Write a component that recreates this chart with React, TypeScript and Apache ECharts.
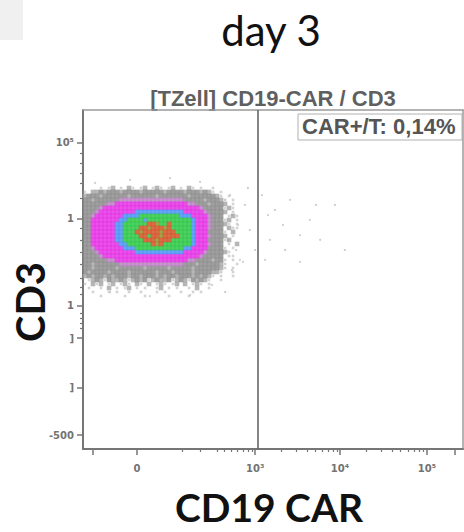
import React, { useEffect, useRef } from "react";
import * as echarts from "echarts";

// ---- texts ----
const pageTitle = "day 3";
const plotTitle = "[TZell] CD19-CAR / CD3";
const xAxisTitle = "CD19 CAR";
const yAxisTitle = "CD3";
const gateLabel = "CAR+/T: 0,14%";

// ---- axes (display channel scale 0..1000 on both axes) ----
const xMajorTicks = [26, 142, 453, 676, 905, 979];
const xMajorLabels = ["", "0", "10³", "10⁴", "10⁵", ""];
const xMinorTicks = [
  260, 308, 353, 371, 390, 405, 421, 434, 445,
  521, 560, 590, 611, 629, 645, 658, 668,
  745, 784, 813, 834, 855, 871, 884, 895,
];
const yMajorTicks = [903, 679, 422, 327, 180, 41];
const yMajorLabels = ["10⁵", "1", "1", "]", "]", "-500"];
const yMinorTicks = [
  873, 844, 814, 785, 740,
  652, 617, 581, 546, 504, 478, 457,
  401, 386, 372, 357,
];
const gateX = 461;

// ---- density plot: binned event levels ----
// first bin centre (channels) and bin width (channels)
const densityOrigin = [5.3, 770];
const densityBin = [10.53, 11.8];
const densityRows = [
  "    . .: . :. .: .:. .: . :. .  .      ",
  ". ::" + "g:ggg:gggg:ggggg:gggg:ggg:g" + ":. .    ",
  ":" + "ggg:gggggg:gggggg:ggggggg:gggggg" + ":." + " .  ",
  "gg:gggggg" + "pppppppppppppppp" + "ggggg:ggg" + ":. . ",
  "gggggg" + "pp" + "mmmmmmmmmmmmmmmmmm" + "pp" + "ggg:ggg" + ": . ",
  "gggg" + "p" + "mmmmmmmmmmmmmmmmmmmmmmmm" + "p" + "ggggg" + ".:. ",
  "ggg" + "p" + "mmmmmmmmm" + "bbbbbbbbbbbb" + "mmmmm" + "p" + "gggg" + ": . ",
  "gg" + "p" + "mmmmmmm" + "bbbb" + "nnnnnnnnnn" + "bbb" + "mmmm" + "pggg" + " .:.",
  "gg" + "mmmmmmm" + "bb" + "nnnnbnnnnnnnnnnn" + "b" + "mmm" + "pggg" + ".: .",
  "gg" + "mmmmmm" + "bb" + "nnnnnnrronnrnnnnn" + "b" + "mmm" + "pggg" + ":. .",
  "gg" + "mmmmmm" + "bb" + "nnnnrrorrrornnnnn" + "b" + "mmm" + "pggg" + " :..",
  "gg" + "mmmmmm" + "bb" + "nnnrorrrrorrrnnnn" + "b" + "mmm" + "gggg" + ". : ",
  "gg" + "mmmmmm" + "bb" + "nnnnrrnrrorrrrnnn" + "b" + "mmm" + "pggg" + ": . ",
  "gg" + "mmmmmm" + "bb" + "nnnnnrrrorrrnnnnn" + "b" + "mmm" + "gggg" + ".:  ",
  "gg" + "mmmmmmm" + "bb" + "nnnnnnrornnnnnnn" + "b" + "mmm" + "pggg" + " . :",
  "gg" + "p" + "mmmmmmm" + "bbb" + "nnnnnnnnnnnn" + "bb" + "mmmm" + "gggg" + ". . ",
  "ggg" + "p" + "mmmmmmmmm" + "bbbbbbbbbbbb" + "mmmmm" + "p" + "gggg" + ":.  ",
  "gggg" + "p" + "mmmmmmmmmmmmmmmmmmmmmmmm" + "p" + "ggggg" + " .. ",
  "gggggg" + "pp" + "mmmmmmmmmmmmmmmmmm" + "pp" + "gggg:gg" + ". . ",
  "gg:gggggg" + "pppppppppppppppp" + "ggg:ggggg" + ":.  .",
  "gg:ggggg:gggggg:ggggg:ggggg:gggggg" + ":. . ",
  "g:gggg:gggg:gggggg:ggg:gggg:gggg:" + ":.  . ",
  ":g:gg:g:ggg:gg:ggg:g:gg:ggg:g:g:" + ". .  . ",
  " .:g:.g::g:.:g:g.:g::g.:g:.g:g:." + "  .    ",
  ". :.: .: .:. :. : .:. .: : .:. .      ",
  " .  . : . .: . .  .: . .  . :  .      ",
  "  .   . .  .  .   . .   .  . .        ",
  "    .     .    .     .    .           ",
];

// sparse events outside the main population (channels)
const sparseEvents = [
  [374, 735], [392, 690], [408, 661], [382, 617], [426, 720], [439, 646],
  [471, 749], [487, 690], [505, 705], [526, 661], [545, 735], [571, 631],
  [597, 676], [624, 617], [663, 720], [689, 587], [453, 587], [413, 558],
  [392, 528], [479, 558], [339, 484], [374, 463], [282, 454], [176, 451],
  [71, 463], [124, 794], [229, 799], [308, 788], [32, 785], [387, 749],
  [403, 587], [421, 552], [363, 522], [434, 770], [532, 587], [571, 552],
  [613, 720], [492, 617],
];

const levelStyles: Record<string, { name: string; color: string; size: number }> = {
  ".": { name: "sparse", color: "#c9c9c9", size: 2.6 },
  ":": { name: "low", color: "#a4a4a4", size: 4.6 },
  g: { name: "grey", color: "#878787", size: 4.6 },
  p: { name: "edge", color: "#b878c0", size: 4.6 },
  m: { name: "magenta", color: "#e326e3", size: 4.6 },
  b: { name: "blue", color: "#3f8df5", size: 4.6 },
  n: { name: "green", color: "#22c43c", size: 4.6 },
  o: { name: "olive", color: "#8f8a1f", size: 4.6 },
  r: { name: "red", color: "#cf4a1c", size: 4.6 },
};
const levelOrder = [".", ":", "g", "p", "m", "b", "n", "o", "r"];

function buildOption() {
  const binned: Record<string, number[][]> = {};
  densityRows.forEach((row, r) => {
    for (let c = 0; c < row.length; c++) {
      const k = row[c];
      if (!levelStyles[k]) continue;
      (binned[k] = binned[k] || []).push([
        densityOrigin[0] + c * densityBin[0],
        densityOrigin[1] - r * densityBin[1],
      ]);
    }
  });

  const axisColor = "#767676";
  const labelFont = { color: "#737373", fontSize: 10, fontWeight: "bold", fontFamily: "DejaVu Sans" };
  const base = { type: "value", min: 0, max: 1000, splitLine: { show: false } };
  const labelX = (v: number) => {
    const i = xMajorTicks.indexOf(v);
    return i >= 0 ? xMajorLabels[i] : "";
  };
  const labelY = (v: number) => {
    const i = yMajorTicks.indexOf(v);
    return i >= 0 ? yMajorLabels[i] : "";
  };

  const series: any[] = levelOrder
    .filter((k) => binned[k])
    .map((k) => ({
      type: "scatter",
      name: levelStyles[k].name,
      symbol: "rect",
      symbolSize: levelStyles[k].size,
      silent: true,
      itemStyle: { color: levelStyles[k].color },
      data: binned[k],
      xAxisIndex: 0,
      yAxisIndex: 0,
    }));

  series.unshift({
    type: "scatter",
    name: "events",
    symbol: "circle",
    symbolSize: 2.2,
    silent: true,
    itemStyle: { color: "#bdbdbd" },
    data: sparseEvents,
    xAxisIndex: 0,
    yAxisIndex: 0,
    markLine: {
      silent: true,
      symbol: ["none", "none"],
      label: { show: false },
      lineStyle: { color: "#666666", width: 1.6, type: "solid" },
      data: [{ xAxis: gateX }],
    },
  });

  return {
    animation: false,
    backgroundColor: "#ffffff",
    grid: { left: 83, top: 110, width: 380, height: 339, outerBoundsMode: "none" },
    xAxis: [
      {
        ...base,
        position: "bottom",
        axisLine: { show: true, onZero: false, lineStyle: { color: axisColor, width: 2 } },
        axisTick: { show: true, customValues: xMajorTicks, length: 6, lineStyle: { color: axisColor, width: 1.5 } },
        axisLabel: {
          show: true,
          customValues: xMajorTicks.filter((_, i) => xMajorLabels[i] !== ""),
          formatter: labelX,
          margin: 14,
          ...labelFont,
        },
      },
      {
        ...base,
        position: "bottom",
        axisLine: { show: false },
        axisTick: { show: true, customValues: xMinorTicks, length: 3, lineStyle: { color: axisColor, width: 1.2 } },
        axisLabel: { show: false },
      },
      {
        ...base,
        position: "top",
        axisLine: { show: true, onZero: false, lineStyle: { color: "#9a9a9a", width: 1.5 } },
        axisTick: { show: false },
        axisLabel: { show: false },
      },
    ],
    yAxis: [
      {
        ...base,
        position: "left",
        axisLine: { show: true, onZero: false, lineStyle: { color: axisColor, width: 2 } },
        axisTick: { show: true, customValues: yMajorTicks, length: 6, lineStyle: { color: axisColor, width: 1.5 } },
        axisLabel: {
          show: true,
          customValues: yMajorTicks,
          formatter: labelY,
          margin: 9,
          ...labelFont,
        },
      },
      {
        ...base,
        position: "left",
        axisLine: { show: false },
        axisTick: { show: true, customValues: yMinorTicks, length: 3, lineStyle: { color: axisColor, width: 1.2 } },
        axisLabel: { show: false },
      },
      {
        ...base,
        position: "right",
        axisLine: { show: true, onZero: false, lineStyle: { color: "#9a9a9a", width: 1.5 } },
        axisTick: { show: false },
        axisLabel: { show: false },
      },
    ],
    series,
    graphic: [
      { type: "rect", shape: { x: 0, y: 0, width: 23, height: 40 }, style: { fill: "#f0f0f0" } },
      {
        type: "text",
        x: 271,
        y: 30,
        style: { text: pageTitle, fontFamily: "Lato", fontSize: 42, fill: "#111111", align: "center", verticalAlign: "middle" },
      },
      {
        type: "text",
        x: 273,
        y: 98,
        style: { text: plotTitle, fontFamily: "Liberation Sans", fontWeight: "bold", fontSize: 22, fill: "#5f5f5f", align: "center", verticalAlign: "middle" },
      },
      {
        type: "rect",
        z: 10,
        shape: { x: 298, y: 114, width: 164, height: 26 },
        style: { fill: "#ffffff", stroke: "#b0b0b0", lineWidth: 1 },
      },
      {
        type: "text",
        z: 11,
        x: 302,
        y: 126,
        style: { text: gateLabel, fontFamily: "Liberation Sans", fontWeight: "bold", fontSize: 22, fill: "#555555", align: "left", verticalAlign: "middle" },
      },
      {
        type: "text",
        x: 30,
        y: 302,
        rotation: Math.PI / 2,
        style: { text: yAxisTitle, fontFamily: "Lato", fontWeight: "bold", fontSize: 40, fill: "#111111", align: "center", verticalAlign: "middle" },
      },
      {
        type: "text",
        x: 269,
        y: 507,
        style: { text: xAxisTitle, fontFamily: "Lato", fontWeight: "bold", fontSize: 39, fill: "#111111", align: "center", verticalAlign: "middle" },
      },
    ],
  };
}

export default function App() {
  const ref = useRef<HTMLDivElement>(null);
  useEffect(() => {
    if (!ref.current) return;
    const chart = echarts.init(ref.current, null, { renderer: "svg" });
    chart.setOption(buildOption() as any);
    return () => chart.dispose();
  }, []);
  return (
    <div
      ref={ref}
      style={{ position: "fixed", left: 0, top: 0, width: 464, height: 532, background: "#ffffff" }}
    />
  );
}
